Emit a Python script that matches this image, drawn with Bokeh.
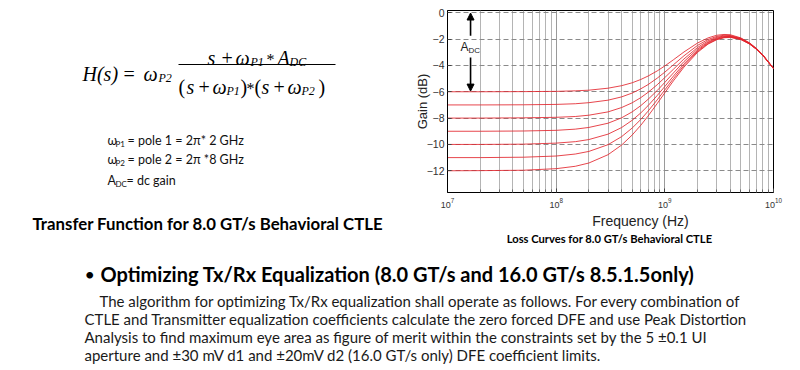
from bokeh.plotting import figure
from bokeh.models import (Range1d, Label, Arrow, NormalHead, FixedTicker,
                          LogTickFormatter)
from bokeh.layouts import row, column
from bokeh.embed import file_html
from bokeh.resources import INLINE

# ---------------- data ----------------
freq_hz = [1e7, 2e7, 5e7, 1e8, 1.5e8, 2e8, 3e8, 4e8, 5e8, 6e8, 7e8, 8.5e8,
           1e9, 1.2e9, 1.5e9, 2e9, 2.5e9, 3e9, 3.5e9, 4e9, 5e9, 6e9, 7e9,
           8e9, 1e10]
gain_adc_m6 = [-6.00, -6.00, -5.99, -5.97, -5.93, -5.88, -5.73, -5.54, -5.32,
               -5.07, -4.81, -4.42, -4.04, -3.57, -2.98, -2.30, -1.91, -1.71,
               -1.65, -1.67, -1.91, -2.28, -2.72, -3.21, -4.21]
gain_adc_m7 = [-7.00, -7.00, -6.99, -6.96, -6.91, -6.83, -6.64, -6.39, -6.10,
               -5.78, -5.46, -4.97, -4.51, -3.95, -3.27, -2.48, -2.03, -1.80,
               -1.71, -1.73, -1.94, -2.30, -2.74, -3.22, -4.22]
gain_adc_m8 = [-8.00, -8.00, -7.98, -7.94, -7.88, -7.78, -7.53, -7.20, -6.84,
               -6.45, -6.05, -5.47, -4.92, -4.29, -3.51, -2.64, -2.13, -1.87,
               -1.77, -1.77, -1.97, -2.32, -2.75, -3.23, -4.23]
gain_adc_m9 = [-9.00, -9.00, -8.98, -8.93, -8.84, -8.71, -8.39, -7.98, -7.53,
               -7.06, -6.58, -5.91, -5.29, -4.57, -3.71, -2.76, -2.22, -1.93,
               -1.81, -1.80, -1.99, -2.34, -2.77, -3.24, -4.24]
gain_adc_m10 = [-10.00, -10.00, -9.98, -9.90, -9.79, -9.63, -9.22, -8.72, -8.17,
                -7.61, -7.06, -6.29, -5.60, -4.81, -3.88, -2.86, -2.28, -1.98,
                -1.85, -1.83, -2.01, -2.35, -2.78, -3.25, -4.24]
gain_adc_m11 = [-11.00, -11.00, -10.97, -10.88, -10.73, -10.53, -10.02, -9.41,
                -8.76, -8.11, -7.48, -6.62, -5.86, -5.00, -4.01, -2.94, -2.34,
                -2.02, -1.88, -1.85, -2.02, -2.36, -2.78, -3.25, -4.24]
gain_adc_m12 = [-12.00, -11.99, -11.96, -11.84, -11.66, -11.41, -10.78, -10.05,
                -9.29, -8.55, -7.85, -6.90, -6.08, -5.17, -4.13, -3.01, -2.38,
                -2.05, -1.90, -1.87, -2.03, -2.37, -2.79, -3.26, -4.25]
curves = [gain_adc_m6, gain_adc_m7, gain_adc_m8, gain_adc_m9,
          gain_adc_m10, gain_adc_m11, gain_adc_m12]

y_ticks = [0, -2, -4, -6, -8, -10, -12]
x_major = [1e7, 1e8, 1e9, 1e10]
x_minor = [m * 10 ** e for e in (7, 8, 9) for m in range(2, 10)]

x_title = "Frequency (Hz)"
y_title = "Gain (dB)"
chart_caption = "Loss Curves for 8.0 GT/s Behavioral CTLE"
left_caption = "Transfer Function for 8.0 GT/s Behavioral CTLE"
heading = "Optimizing Tx/Rx Equalization (8.0 GT/s and 16.0 GT/s 8.5.1.5only)"
body_lines = [
    "The algorithm for optimizing Tx/Rx equalization shall operate as follows. For every combination of",
    "CTLE and Transmitter equalization coefficients calculate the zero forced DFE and use Peak Distortion",
    "Analysis to find maximum eye area as figure of merit within the constraints set by the 5 \u00b10.1 UI",
    "aperture and \u00b130 mV d1 and \u00b120mV d2 (16.0 GT/s only) DFE coefficient limits.",
]

# ---------------- layout (page pixel coordinates) ----------------
FL, FR, FT, FB = 447, 773, 10, 192   # chart frame edges
R1, R2, R3 = 211, 250, 370           # row bottoms


def text_fig(x0, x1, y0, y1, bl=0, br=0, bt=0, bb=0):
    f = figure(width=x1 - x0, height=y1 - y0,
               x_range=Range1d(x0 + bl, x1 - br),
               y_range=Range1d(y1 - bb, y0 + bt),
               x_axis_location=None, y_axis_location=None,
               output_backend="svg", toolbar_location=None,
               title_location=None,
               min_border_left=bl, min_border_right=br,
               min_border_top=bt, min_border_bottom=bb,
               background_fill_color="white", border_fill_color="white")
    f.grid.visible = False
    f.outline_line_color = None
    return f


def txt(f, x, y, s, size, font="Lato", style="normal", color="#111111",
        align="left", baseline="middle"):
    f.add_layout(Label(x=x, y=y, text=s, text_font=font,
                       text_font_size=f"{size}px", text_font_style=style,
                       text_color=color, text_align=align,
                       text_baseline=baseline))


# ---------------- chart ----------------
p = figure(width=800 - 400, height=R1, x_axis_type="log",
           x_range=Range1d(1e7, 1e10), y_range=Range1d(-13.65, 0.17),
           output_backend="svg", toolbar_location=None, title_location=None,
           min_border_left=FL - 400, min_border_right=800 - FR,
           min_border_top=FT, min_border_bottom=R1 - FB,
           background_fill_color="white", border_fill_color="white")
p.outline_line_color = "black"
p.outline_line_width = 1

p.xaxis.ticker = FixedTicker(ticks=x_major, minor_ticks=x_minor)
p.xaxis.formatter = LogTickFormatter()
p.yaxis.ticker = FixedTicker(ticks=y_ticks)
for ax in (p.xaxis[0], p.yaxis[0]):
    ax.axis_line_color = "black"
    ax.major_tick_in = 4
    ax.major_tick_out = 0
    ax.minor_tick_in = 3
    ax.minor_tick_out = 0
    ax.major_tick_line_color = "#444444"
    ax.minor_tick_line_color = "#666666"
    ax.major_label_text_font = "Liberation Sans"
    ax.major_label_text_color = "#333333"
    ax.axis_label_text_font = "Liberation Sans"
    ax.axis_label_text_font_style = "normal"
    ax.axis_label_text_color = "#222222"
p.xaxis.major_label_text_font_size = "9px"
p.xaxis.major_label_standoff = 5
p.yaxis.major_label_text_font_size = "10.5px"
p.yaxis.major_label_standoff = 3
p.yaxis.axis_label = y_title
p.yaxis.axis_label_text_font_size = "13px"
p.yaxis.axis_label_standoff = -6

p.xgrid.grid_line_color = "#9a9a9a"
p.xgrid.grid_line_width = 1
p.xgrid.minor_grid_line_color = "#b4b4b4"
p.ygrid.grid_line_color = "#8a8a8a"
p.ygrid.grid_line_dash = "5 3"

for g in curves:
    p.line(freq_hz, g, line_color="#e3262e", line_width=1, line_alpha=0.85)

# ADC arrows
XA = 1.63e7
for ys, ye in ((-1.75, -0.02), (-3.4, -5.95)):
    p.add_layout(Arrow(end=NormalHead(size=7, fill_color="black",
                                      line_color="black"),
                       x_start=XA, y_start=ys, x_end=XA, y_end=ye,
                       line_width=1.6))
p.add_layout(Label(x=XA, y=-2.6, text="A", x_offset=-10,
                   text_font="Liberation Sans", text_font_size="12px",
                   text_color="#222222", text_baseline="middle"))
p.add_layout(Label(x=XA, y=-2.6, text="DC", x_offset=-2, y_offset=-4,
                   text_font="Liberation Sans", text_font_size="8px",
                   text_color="#222222", text_baseline="middle"))

# ---------------- left: formula + definitions ----------------
L1 = text_fig(0, 400, 0, R1, bt=FT, bb=R1 - FB)
SER = "Liberation Serif"
FS, SS, ST = 20, 12, 16
K = "#000000"
A = "alphabetic"
txt(L1, 82, 73, "H(s)", FS, SER, "italic", K, baseline=A)
txt(L1, 123, 73, "=", FS, SER, "normal", K, baseline=A)
txt(L1, 143, 73, "\u03c9", FS, SER, "italic", K, baseline=A)
txt(L1, 158, 77, "P2", SS, SER, "italic", K, baseline=A)
nb = 57
txt(L1, 207, nb, "s", FS, SER, "italic", K, baseline=A)
txt(L1, 221, nb, "+", FS, SER, "normal", K, baseline=A)
txt(L1, 235, nb, "\u03c9", FS, SER, "italic", K, baseline=A)
txt(L1, 250, nb + 4, "P1", SS, SER, "italic", K, baseline=A)
txt(L1, 266, nb + 2, "*", ST, SER, "normal", K, baseline=A)
txt(L1, 277, nb, "A", FS, SER, "italic", K, baseline=A)
txt(L1, 289, nb + 4, "DC", SS, SER, "italic", K, baseline=A)
L1.segment(x0=[178], y0=[64], x1=[335], y1=[64], line_color=K, line_width=1)
db = 86
txt(L1, 178, db, "(", FS, SER, "normal", K, baseline=A)
txt(L1, 186, db, "s", FS, SER, "italic", K, baseline=A)
txt(L1, 198, db, "+", FS, SER, "normal", K, baseline=A)
txt(L1, 212, db, "\u03c9", FS, SER, "italic", K, baseline=A)
txt(L1, 226, db + 4, "P1", SS, SER, "italic", K, baseline=A)
txt(L1, 240, db, ")", FS, SER, "normal", K, baseline=A)
txt(L1, 246, db + 2, "*", ST, SER, "normal", K, baseline=A)
txt(L1, 254, db, "(", FS, SER, "normal", K, baseline=A)
txt(L1, 261, db, "s", FS, SER, "italic", K, baseline=A)
txt(L1, 273, db, "+", FS, SER, "normal", K, baseline=A)
txt(L1, 287, db, "\u03c9", FS, SER, "italic", K, baseline=A)
txt(L1, 301, db + 4, "P2", SS, SER, "italic", K, baseline=A)
txt(L1, 318, db, ")", FS, SER, "normal", K, baseline=A)

DF = 12.5
txt(L1, 107, 140, "\u03c9", DF, baseline=A)
txt(L1, 115, 143, "P1", 8, baseline=A)
txt(L1, 127, 140, "= pole 1 = 2\u03c0* 2 GHz", DF, baseline=A)
txt(L1, 107, 159, "\u03c9", DF, baseline=A)
txt(L1, 115, 162, "P2", 8, baseline=A)
txt(L1, 127, 159, "= pole 2 = 2\u03c0 *8 GHz", DF, baseline=A)
txt(L1, 107, 180, "A", DF, baseline=A)
txt(L1, 115, 183, "DC", 8, baseline=A)
txt(L1, 126, 180, "= dc gain", DF, baseline=A)

# ---------------- middle strip: captions ----------------
L2 = text_fig(0, 400, R1, R2)
txt(L2, 32, 222.5, left_caption, 16.8, style="bold", color=K)
P2 = text_fig(400, 800, R1, R2, bl=FL - 400, br=800 - FR)
txt(P2, 640, 220, x_title, 14, font="Liberation Sans", color="#222222",
    align="center")
txt(P2, 609, 238, chart_caption, 11.2, style="bold", color=K, align="center")

# ---------------- bottom: bullet text ----------------
B = text_fig(0, 800, R2, R3)
txt(B, 84, 273, "\u2022", 18, color=K)
txt(B, 100, 273, heading, 20, style="bold", color=K)
body_x = [99, 84, 84, 84]
body_y = [300, 318, 336, 354]
for bx, by, line in zip(body_x, body_y, body_lines):
    txt(B, bx, by, line, 15, color="#1a1a1a")

layout = column(row(L1, p), row(L2, P2), B)
open("out.html", "w").write(file_html(layout, INLINE))
